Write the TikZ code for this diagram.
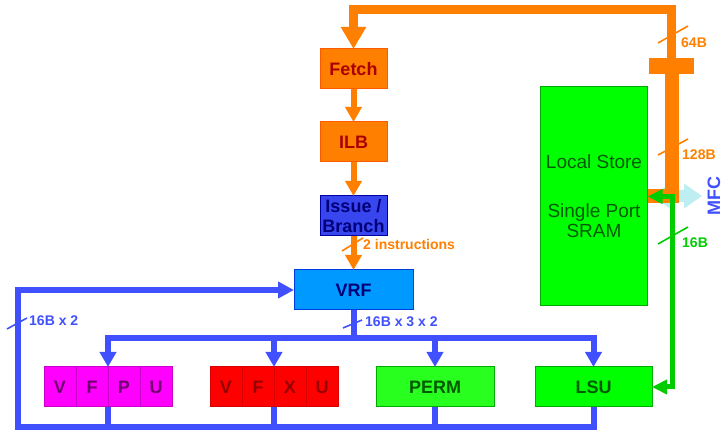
\documentclass[tikz,border=0pt]{standalone}
\usepackage{fontspec}
\setmainfont{Liberation Sans}
\usetikzlibrary{positioning}
\usetikzlibrary{arrows.meta}

\definecolor{busorange}{RGB}{255,128,0}
\definecolor{fetchborder}{RGB}{255,90,0}
\definecolor{fetchtext}{RGB}{170,0,0}
\definecolor{issuefill}{RGB}{56,70,240}
\definecolor{issueborder}{RGB}{0,0,160}
\definecolor{navytext}{RGB}{0,0,120}
\definecolor{vrffill}{RGB}{0,153,255}
\definecolor{vrfborder}{RGB}{0,60,220}
\definecolor{busblue}{RGB}{64,80,255}
\definecolor{lsfill}{RGB}{0,255,0}
\definecolor{lsborder}{RGB}{0,170,0}
\definecolor{lstext}{RGB}{0,90,0}
\definecolor{permfill}{RGB}{40,255,30}
\definecolor{gline}{RGB}{0,204,0}
\definecolor{mfccyan}{RGB}{190,238,242}
\definecolor{vfpufill}{RGB}{255,0,255}
\definecolor{vfpuborder}{RGB}{200,0,200}
\definecolor{vfputext}{RGB}{110,0,110}
\definecolor{vfxufill}{RGB}{255,0,0}
\definecolor{vfxuborder}{RGB}{215,0,0}
\definecolor{vfxutext}{RGB}{150,0,0}

\begin{document}
\begin{tikzpicture}[
    x=1pt, y=-1pt, % pixel grid, y downwards
    box/.style={draw, line width=1pt, outer sep=0pt, inner sep=0pt,
        minimum width=67pt, minimum height=40pt,
        font=\bfseries\fontsize{18}{20}\selectfont},
    cell/.style={box, minimum width=32pt},
    obus/.style={draw=busorange, line width=6pt},
    bbus/.style={draw=busblue, line width=6pt},
    tick/.style={line width=1.6pt},
    lbl/.style={anchor=west, inner sep=0pt, font=\bfseries\fontsize{14}{16}\selectfont},
    oarrow/.style={-{Triangle[width=16pt,length=15pt]}},
]
    \useasboundingbox (0,0) rectangle (724,430);

    % instruction side
    \node[box, fill=busorange, draw=fetchborder, text=fetchtext] (fetch) at (353.5,69) {Fetch};
    \node[box, fill=busorange, draw=fetchborder, text=fetchtext] (ilb) at (353.5,142) {ILB};
    \node[box, fill=issuefill, draw=issueborder, text=navytext, align=center] (issue) at (353.5,216) {Issue /\\Branch};
    \node[box, fill=vrffill, draw=vrfborder, text=navytext, minimum width=119pt] (vrf) at (353.5,290) {VRF};

    % local store
    \node[box, fill=lsfill, draw=lsborder, text=lstext, minimum width=107pt, minimum height=219pt,
          align=center, font=\fontsize{19}{20}\selectfont] (ls) at (594,196.5) {Local Store\\[29pt]Single Port\\SRAM};
    \node[fill=busorange, minimum width=45pt, minimum height=16pt, inner sep=0pt, outer sep=0pt] (bar) at (671.5,66) {};

    % execution units
    \node[cell, fill=vfpufill, draw=vfpuborder, text=vfputext] (vfpu1) at (60,387) {V};
    \node[cell, fill=vfpufill, draw=vfpuborder, text=vfputext, right=0pt of vfpu1] (vfpu2) {F};
    \node[cell, fill=vfpufill, draw=vfpuborder, text=vfputext, right=0pt of vfpu2] (vfpu3) {P};
    \node[cell, fill=vfpufill, draw=vfpuborder, text=vfputext, right=0pt of vfpu3] (vfpu4) {U};
    \node[cell, fill=vfxufill, draw=vfxuborder, text=vfxutext] (vfxu1) at (226,387) {V};
    \node[cell, fill=vfxufill, draw=vfxuborder, text=vfxutext, right=0pt of vfxu1] (vfxu2) {F};
    \node[cell, fill=vfxufill, draw=vfxuborder, text=vfxutext, right=0pt of vfxu2] (vfxu3) {X};
    \node[cell, fill=vfxufill, draw=vfxuborder, text=vfxutext, right=0pt of vfxu3] (vfxu4) {U};
    \node[box, fill=permfill, draw=lsborder, text=lstext, minimum width=118pt] (perm) at (435,387) {PERM};
    \node[box, fill=lsfill, draw=lsborder, text=lstext, minimum width=117pt] (lsu) at (593.5,387) {LSU};

    % MFC port
    \fill[mfccyan] (652,196) -- (670,183.5) -- (670,190) -- (684,190) -- (684,183.5) -- (702,196)
        -- (684,208.5) -- (684,202) -- (670,202) -- (670,208.5) -- cycle;
    \node[rotate=90, anchor=base, text=busblue, inner sep=0pt, font=\bfseries\fontsize{18}{18}\selectfont] (mfc) at (720,196) {MFC};

    % orange buses
    \coordinate (topbus) at (512,10);
    \draw[obus, line width=9pt, -{Triangle[width=24pt,length=22pt]}] (bar.north) |- (topbus) -| (fetch.north);
    \draw[obus, line width=14pt] (bar.south) |- (ls.east);
    \draw[obus, oarrow] (fetch) -- (ilb);
    \draw[obus, oarrow] (ilb) -- (issue);
    \draw[obus, oarrow] (issue) -- (vrf);

    \draw[tick, draw=busorange] (658,43) -- (688,26);
    \node[lbl, text=busorange] (l64) at (681,43) {64B};
    \draw[tick, draw=busorange] (658,155) -- (688,139);
    \node[lbl, text=busorange] (l128) at (682,155) {128B};
    \draw[tick, draw=busorange] (342,251) -- (363,238);
    \node[lbl, text=busorange] (linstr) at (363,244) {2 instructions};

    % load/store path
    \draw[draw=gline, line width=5pt, {Triangle[width=14pt,length=15pt]}-{Triangle[width=14pt,length=15pt]}]
        (ls.east) -- ++(25,0) |- (lsu.east);
    \draw[tick, draw=gline] (658,244) -- (688,227);
    \node[lbl, text=gline] (l16) at (682,243) {16B};

    % operand bus
    \draw[bbus] (vrf.south) -- ++(0,28) coordinate (split);
    \draw[bbus, -{Triangle[width=16pt,length=15pt]}] (split) -| (vfpu2.north east);
    \draw[bbus, -{Triangle[width=16pt,length=15pt]}] (split) -| (vfxu2.north east);
    \draw[bbus, -{Triangle[width=16pt,length=15pt]}] (split) -| (perm.north);
    \draw[bbus, -{Triangle[width=16pt,length=15pt]}] (split) -| (lsu.north);
    \draw[tick, draw=busblue] (343,328) -- (362,320);
    \node[lbl, text=busblue] (lops) at (365,322) {16B x 3 x 2};

    % result bus
    \coordinate (loop) at (17.5,427);
    \draw[bbus, -{Triangle[width=16pt,length=16pt]}] (lsu.south) |- (loop) |- (vrf.west);
    \draw[bbus] (vfpu2.south east) -- (vfpu2.south east |- loop);
    \draw[bbus] (vfxu2.south east) -- (vfxu2.south east |- loop);
    \draw[bbus] (perm.south) -- (perm.south |- loop);
    \draw[tick, draw=busblue] (7,329) -- (27,318);
    \node[lbl, text=busblue] (lres) at (29,321) {16B x 2};
\end{tikzpicture}
\end{document}
